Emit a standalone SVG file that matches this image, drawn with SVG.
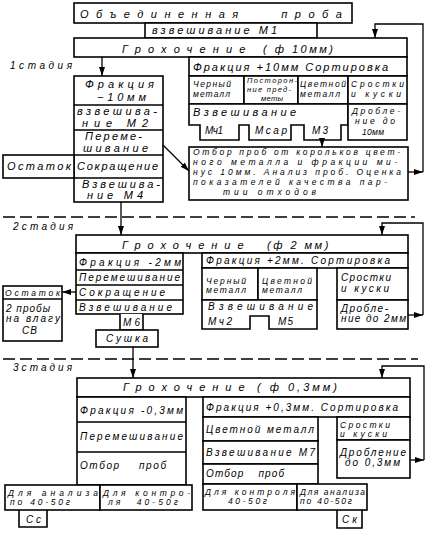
<svg xmlns="http://www.w3.org/2000/svg" width="430" height="535" viewBox="0 0 430 535">
<style>
.b{fill:#fff;stroke:#000;stroke-width:1.6}
.l{fill:none;stroke:#000;stroke-width:1.6}
.c{fill:none;stroke:#000;stroke-width:1.3}
.d{fill:none;stroke:#000;stroke-width:1.6;stroke-dasharray:12 5}
text{font-family:"Liberation Sans",Arial,sans-serif;font-style:italic;font-size:10px;fill:#000}
.m{font-size:11px}
.s{font-size:8.5px}
.xs{font-size:7.5px}
.p{font-size:8.5px}
.h{font-size:11px}
</style>
<defs>
<marker id="ah" markerUnits="userSpaceOnUse" markerWidth="9" markerHeight="6" refX="9" refY="3" orient="auto">
<path d="M0,0 L9,3 L0,6 Z" fill="#000"/>
</marker>
</defs>
<rect width="430" height="535" fill="#fff"/>

<!-- stage labels and separators -->
<text x="10" y="69" textLength="62">1стадия</text>
<text x="13" y="230" textLength="60">2стадия</text>
<text x="13" y="371" textLength="59">3стадия</text>
<line class="d" x1="3" y1="217" x2="415" y2="217"/>
<line class="d" x1="3" y1="359" x2="418" y2="359"/>

<!-- ===== Stage 1 ===== -->
<g id="joint-sample">
<rect class="b" x="74" y="3" width="278" height="20"/>
<text class="h" x="80" y="18" letter-spacing="7.5" word-spacing="25">Объединенная проба</text>
</g>
<g id="weigh-m1">
<rect class="b" x="145" y="23" width="172" height="15"/>
<text class="m" x="152" y="34" textLength="125">взвешивание  М1</text>
</g>
<g id="screen-10">
<rect class="b" x="74" y="38" width="333" height="19"/>
<text class="h" x="122" y="53"><tspan letter-spacing="7.2">Грохочение</tspan><tspan x="263" letter-spacing="2.5">( ф 10мм)</tspan></text>
</g>
<g id="s1-fraction-minus">
<rect class="b" x="74" y="76" width="89" height="126"/>
<path class="l" d="M74,105H163M74,130H163M74,155H163M74,178H163"/>
<text class="m" x="85" y="88" textLength="69">Фракция</text>
<text class="m" x="97" y="101" textLength="49">−10мм</text>
<text class="m" x="77" y="115" textLength="80">взвешива-</text>
<text class="m" x="82" y="127" textLength="66">ние   М2</text>
<text class="m" x="85" y="140" textLength="57">Переме-</text>
<text class="m" x="83" y="152" textLength="65">шивание</text>
<text class="m" x="77" y="170" textLength="81">Сокращение</text>
<text class="m" x="82" y="188" textLength="78">Взвешива-</text>
<text class="m" x="87" y="199" textLength="56">ние   М4</text>
</g>
<g id="s1-residue">
<rect class="b" x="3" y="155" width="71" height="23"/>
<text class="m" x="7" y="170" textLength="64">Остаток</text>
</g>
<g id="s1-fraction-plus">
<rect class="b" x="189" y="57" width="218" height="19"/>
<text class="m" x="193" y="71" textLength="195">Фракция +10мм Сортировка</text>
</g>
<g id="s1-black">
<rect class="b" x="189" y="76" width="55" height="28"/>
<text class="s" x="193" y="87" textLength="38">Черный</text>
<text class="s" x="193" y="97" textLength="37">металл</text>
</g>
<g id="s1-foreign">
<rect class="b" x="244" y="76" width="54" height="28"/>
<text class="xs" x="247" y="83" textLength="50">Посторон-</text>
<text class="xs" x="247" y="92" textLength="44">ние пред-</text>
<text class="xs" x="261" y="101" textLength="22">меты</text>
</g>
<g id="s1-color">
<rect class="b" x="298" y="76" width="50" height="28"/>
<text class="s" x="300" y="87" textLength="46">Цветной</text>
<text class="s" x="300" y="97" textLength="40">металл</text>
</g>
<g id="s1-intergrowth">
<rect class="b" x="348" y="76" width="59" height="28"/>
<text class="s" x="351" y="87" textLength="53">Сростки</text>
<text class="s" x="351" y="97" textLength="50">и куски</text>
</g>
<g id="s1-weigh">
<path class="b" d="M189,104H348V125H341V140H304V125H291V140H249V125H239V140H200V125H189Z"/>
<text class="m" x="193" y="116" textLength="103">Взвешивание</text>
<text x="205" y="134" textLength="18">Мч1</text>
<text x="255" y="134" textLength="32">Мсар</text>
<text x="312" y="134" textLength="16">М3</text>
</g>
<g id="s1-crush">
<rect class="b" x="348" y="104" width="59" height="36"/>
<text class="s" x="352" y="114" textLength="48">Дробле-</text>
<text class="s" x="355" y="124" textLength="40">ние до</text>
<text class="s" x="362" y="135" textLength="22">10мм</text>
</g>
<g id="s1-sampling">
<rect class="b" x="189" y="147" width="219" height="53"/>
<text class="p" x="193" y="155" textLength="207">Отбор проб от корольков цвет-</text>
<text class="p" x="193" y="165" textLength="204">ного металла и фракции ми-</text>
<text class="p" x="193" y="175" textLength="208">нус 10мм. Анализ проб. Оценка</text>
<text class="p" x="193" y="185" textLength="194">показателей качества пар-</text>
<text class="p" x="223" y="195" textLength="93">тии отходов</text>
</g>

<!-- ===== Stage 2 ===== -->
<g id="screen-2">
<rect class="b" x="76" y="235" width="332" height="18"/>
<text class="h" x="122" y="249"><tspan letter-spacing="7">Грохочение</tspan><tspan x="267" letter-spacing="2.5">(ф 2 мм)</tspan></text>
</g>
<g id="s2-fraction-minus">
<rect class="b" x="76" y="253" width="107" height="61"/>
<path class="l" d="M76,270H183M76,285H183M76,300H183"/>
<text x="79" y="266" textLength="102">Фракция -2мм</text>
<text x="79" y="281" textLength="101">Перемешивание</text>
<text x="79" y="296" textLength="86">Сокращение</text>
<text x="79" y="311" textLength="93">Взвешивание</text>
</g>
<g id="s2-m6">
<path class="b" d="M120,314V330H143V314"/>
<text x="123" y="326" textLength="17">М6</text>
</g>
<g id="s2-drying">
<rect class="b" x="96" y="330" width="62" height="17"/>
<text x="106" y="342" textLength="42">Сушка</text>
</g>
<g id="s2-residue">
<rect class="b" x="3" y="286" width="59" height="55"/>
<line class="l" x1="3" y1="299" x2="62" y2="299"/>
<text class="s" x="5" y="296" textLength="55">Остаток</text>
<text x="6" y="312" textLength="44">2 пробы</text>
<text x="6" y="322" textLength="54">на влагу</text>
<text x="22" y="334" textLength="15">СВ</text>
</g>
<g id="s2-fraction-plus">
<rect class="b" x="202" y="253" width="206" height="15"/>
<text x="206" y="264" textLength="184">Фракция +2мм. Сортировка</text>
</g>
<g id="s2-black">
<rect class="b" x="202" y="268" width="56" height="32"/>
<text class="s" x="206" y="284" textLength="40">Черный</text>
<text class="s" x="206" y="293" textLength="40">металл</text>
</g>
<g id="s2-color">
<rect class="b" x="258" y="268" width="59" height="32"/>
<text class="s" x="262" y="284" textLength="50">Цветной</text>
<text class="s" x="262" y="293" textLength="40">металл</text>
</g>
<g id="s2-weigh">
<path class="b" d="M202,300H317V329H269V316H250V329H202Z"/>
<text x="208" y="310" textLength="105">Взвешивание</text>
<text x="208" y="325" textLength="24">Мч2</text>
<text x="278" y="325" textLength="15">М5</text>
</g>
<g id="s2-intergrowth">
<rect class="b" x="337" y="268" width="71" height="32"/>
<text x="341" y="281" textLength="50">Сростки</text>
<text x="341" y="292" textLength="48">и куски</text>
</g>
<g id="s2-crush">
<rect class="b" x="337" y="300" width="71" height="29"/>
<text x="341" y="312" textLength="47">Дробле-</text>
<text x="341" y="322" textLength="65">ние до 2мм</text>
</g>

<!-- ===== Stage 3 ===== -->
<g id="screen-03">
<rect class="b" x="77" y="378" width="333" height="19"/>
<text class="h" x="123" y="391"><tspan letter-spacing="7">Грохочение</tspan><tspan x="257" letter-spacing="3">( ф 0,3мм)</tspan></text>
</g>
<g id="s3-fraction-minus">
<rect class="b" x="77" y="397" width="109" height="88"/>
<path class="l" d="M77,422H186M77,452H186"/>
<text x="80" y="414" textLength="103">Фракция -0,3мм</text>
<text x="80" y="440" textLength="103">Перемешивание</text>
<text x="80" y="469" textLength="86" word-spacing="14">Отбор проб</text>
</g>
<g id="s3-fraction-plus">
<rect class="b" x="203" y="397" width="207" height="20"/>
<text x="206" y="411" textLength="192">Фракция +0,3мм. Сортировка</text>
</g>
<g id="s3-color">
<rect class="b" x="203" y="417" width="115" height="24"/>
<text x="206" y="433" textLength="108">Цветной металл</text>
</g>
<g id="s3-weigh">
<rect class="b" x="203" y="441" width="115" height="23"/>
<text x="206" y="456" textLength="109">Взвешивание М7</text>
</g>
<g id="s3-sampling">
<rect class="b" x="203" y="464" width="115" height="20"/>
<text x="206" y="477" textLength="78" word-spacing="10">Отбор проб</text>
</g>
<g id="s3-intergrowth">
<rect class="b" x="337" y="417" width="73" height="23"/>
<text class="s" x="340" y="428" textLength="50">Сростки</text>
<text class="s" x="340" y="437" textLength="47">и куски</text>
</g>
<g id="s3-crush">
<rect class="b" x="337" y="440" width="73" height="38"/>
<text x="340" y="456" textLength="66">Дробление</text>
<text x="345" y="466" textLength="55">до  0,3мм</text>
</g>
<g id="s3-analysis-cc">
<path class="b" d="M19,509V527H47V509"/>
<rect class="b" x="5" y="485" width="95" height="25"/>
<text class="s" x="8" y="496" textLength="90">Для анализа</text>
<text class="s" x="10" y="505" textLength="60">по 40-50г</text>
<text x="26" y="523" textLength="15">Сс</text>
</g>
<g id="s3-control-left">
<rect class="b" x="100" y="485" width="92" height="25"/>
<text class="s" x="103" y="496" textLength="87">Для контро-</text>
<text class="s" x="108" y="505" textLength="70" word-spacing="8">ля 40-50г</text>
</g>
<g id="s3-control-right">
<rect class="b" x="203" y="484" width="94" height="26"/>
<text class="s" x="205" y="495" textLength="90">Для контроля</text>
<text class="s" x="228" y="504" textLength="39">40-50г</text>
</g>
<g id="s3-analysis-ck">
<path class="b" d="M337,509V528H362V509"/>
<rect class="b" x="297" y="484" width="70" height="26"/>
<text class="s" x="300" y="495" textLength="65">Для анализа</text>
<text class="s" x="300" y="504" textLength="52">по 40-50г</text>
<text x="342" y="523" textLength="15">Ск</text>
</g>

<!-- ===== Connectors ===== -->
<g id="connectors">
<line class="c" x1="102" y1="57" x2="102" y2="76" marker-end="url(#ah)"/>
<line class="c" x1="322" y1="140" x2="322" y2="147" marker-end="url(#ah)"/>
<line class="c" x1="163" y1="145" x2="189" y2="171" marker-end="url(#ah)"/>
<line class="c" x1="408" y1="172" x2="423" y2="172" marker-end="url(#ah)"/>
<path class="c" d="M423,172V24H375V38" marker-end="url(#ah)"/>
<line class="c" x1="121" y1="202" x2="121" y2="235" marker-end="url(#ah)"/>
<line class="c" x1="408" y1="315" x2="423" y2="315" marker-end="url(#ah)"/>
<path class="c" d="M423,315V223H382V235" marker-end="url(#ah)"/>
<line class="c" x1="76" y1="292" x2="62" y2="292" marker-end="url(#ah)"/>
<line class="c" x1="133" y1="347" x2="133" y2="378" marker-end="url(#ah)"/>
<line class="c" x1="410" y1="460" x2="424" y2="460" marker-end="url(#ah)"/>
<path class="c" d="M424,460V366H382V378" marker-end="url(#ah)"/>
</g>
</svg>
